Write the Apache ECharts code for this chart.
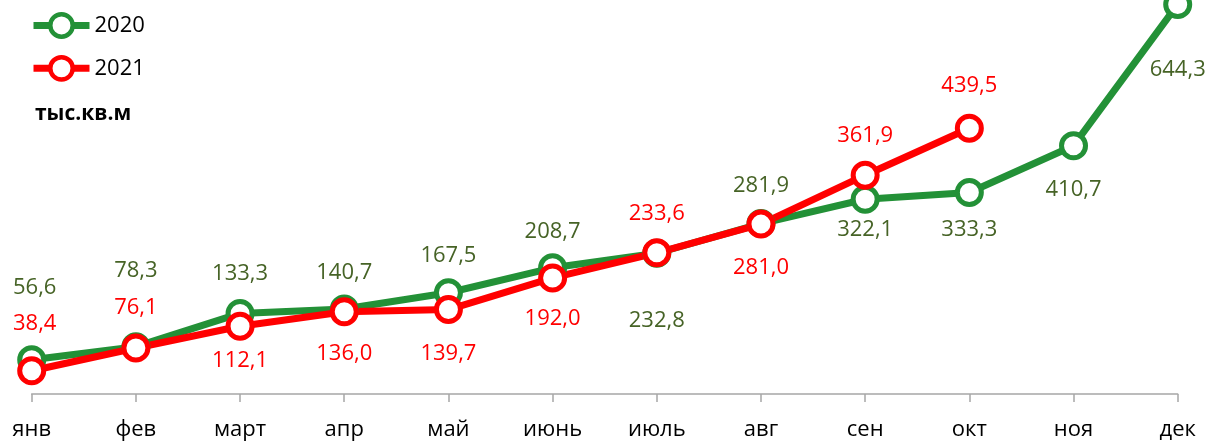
<!DOCTYPE html>
<html>
<head>
<meta charset="utf-8">
<script src="https://cdn.jsdelivr.net/npm/echarts@6/dist/echarts.min.js"></script>
<style>
  html, body { margin: 0; padding: 0; background: #fff; }
  #chart { width: 1207px; height: 441px; }
</style>
</head>
<body>
<div id="chart"></div>
<script>
let months = ['янв','фев','март','апр','май','июнь','июль','авг','сен','окт','ноя','дек']
let values2020 = [56.6, 78.3, 133.3, 140.7, 167.5, 208.7, 232.8, 281.9, 322.1, 333.3, 410.7, 644.3]
let values2021 = [38.4, 76.1, 112.1, 136.0, 139.7, 192.0, 233.6, 281.0, 361.9, 439.5]

// где стоит подпись: пикселей выше (+) или ниже (-) точки
let labelShift2020 = [72, 76, 40, 36, 37, 36, -67, 38, -30, -37, -44, -65]
let labelShift2021 = [47, 40, -35, -42, -44, -41, 39, -44, 39, 43]

const green = '#239137'
const red = '#ff0000'
const font = '"Open Sans", "Noto Sans", sans-serif'

function fmt (v) {
  return v.toFixed(1).replace('.', ',')
}

function buildData (vals, shifts, color) {
  return vals.map(function (v, i) {
    return {
      value: v,
      label: {
        show: true,
        position: 'inside',
        offset: [i === 0 ? 3 : 0, -shifts[i]],
        formatter: fmt(v),
        color: color,
        fontSize: 22,
        fontFamily: font
      }
    }
  })
}

let chart = echarts.init(document.getElementById('chart'))

let option = {
  animation: false,
  backgroundColor: '#fff',
  title: {
    text: 'тыс.кв.м',
    left: 30,
    top: 99,
    textStyle: {
      fontSize: 21,
      fontWeight: 'bold',
      color: '#000',
      fontFamily: font
    }
  },
  legend: {
    orient: 'vertical',
    left: 25,
    top: 7,
    itemWidth: 56,
    itemHeight: 28,
    itemGap: 16,
    lineStyle: { width: 7 },
    itemStyle: { borderWidth: 4.5 },
    textStyle: { fontSize: 22, color: '#000', fontFamily: font },
    data: ['2020', '2021']
  },
  grid: {
    left: 31.7,
    right: 29.3,
    top: 1,
    bottom: 47
  },
  xAxis: {
    type: 'category',
    boundaryGap: false,
    data: months,
    axisLine: { lineStyle: { color: '#a6a6a6', width: 1.5 } },
    axisTick: { show: true, length: 8, alignWithLabel: true, lineStyle: { color: '#a6a6a6', width: 1.5 } },
    axisLabel: { color: '#000', fontSize: 22, margin: 25, fontFamily: font }
  },
  yAxis: {
    type: 'value',
    min: 0,
    max: 650,
    show: false,
    splitLine: { show: false }
  },
  series: [
    {
      name: '2020',
      type: 'line',
      clip: false,
      symbol: 'circle',
      symbolSize: 24,
      lineStyle: { color: green, width: 7 },
      itemStyle: { color: '#fff', borderColor: green, borderWidth: 5 },
      emphasis: { disabled: true },
      data: buildData(values2020, labelShift2020, '#466326')
    },
    {
      name: '2021',
      type: 'line',
      clip: false,
      symbol: 'circle',
      symbolSize: 24,
      lineStyle: { color: red, width: 7 },
      itemStyle: { color: '#fff', borderColor: red, borderWidth: 5 },
      emphasis: { disabled: true },
      data: buildData(values2021, labelShift2021, red)
    }
  ]
}

chart.setOption(option)
</script>
</body>
</html>
